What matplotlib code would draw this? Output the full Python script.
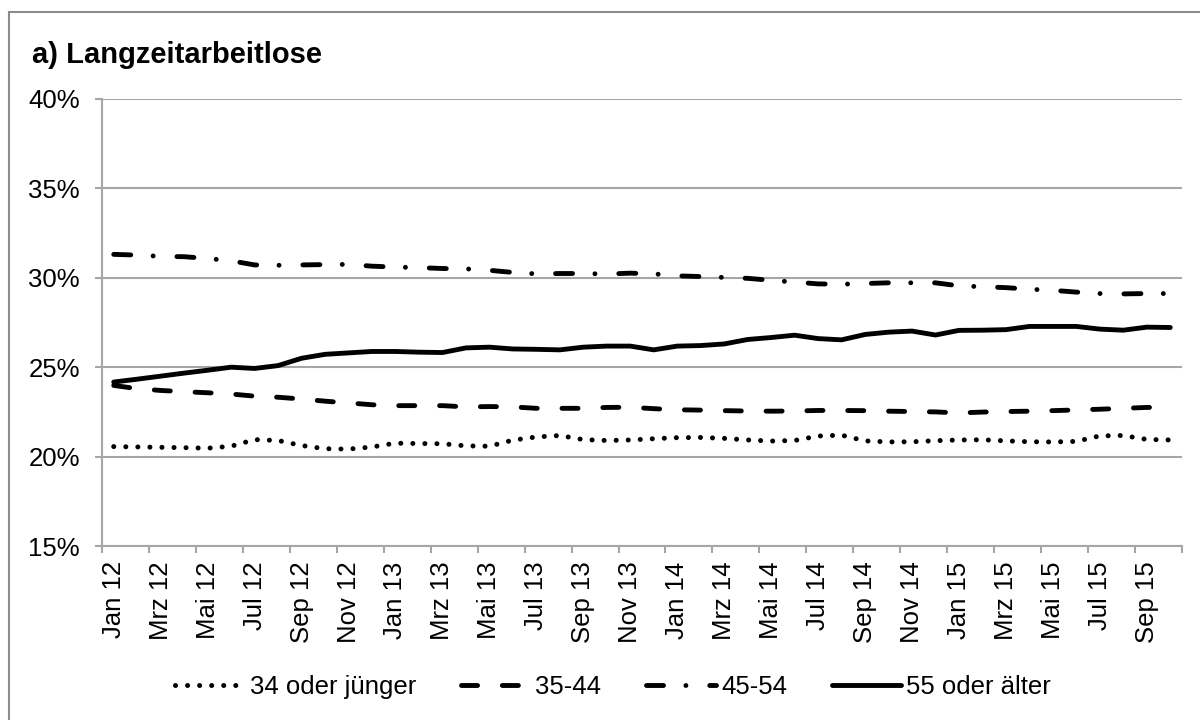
import matplotlib
matplotlib.use("Agg")
import matplotlib.pyplot as plt
from matplotlib.patches import Rectangle
import numpy as np

plt.rcParams['font.family'] = ['Liberation Sans', 'DejaVu Sans']

months = ["Jan", "Feb", "Mrz", "Apr", "Mai", "Jun", "Jul", "Aug", "Sep", "Okt", "Nov", "Dez"]
categories = [f"{months[m]} {y}" for y in (12, 13, 14, 15) for m in range(12)][:46]

s34 = [20.56, 20.54, 20.52, 20.50, 20.47, 20.58, 20.95, 20.90, 20.62, 20.44,
       20.42, 20.54, 20.75, 20.73, 20.72, 20.60, 20.58, 20.92, 21.10, 21.18,
       20.95, 20.90, 20.93, 21.00, 21.06, 21.07, 21.02, 20.93, 20.87, 20.90,
       21.15, 21.20, 20.88, 20.82, 20.83, 20.89, 20.93, 20.94, 20.88, 20.83,
       20.82, 20.85, 21.16, 21.18, 20.96, 20.93]
s35 = [23.98, 23.80, 23.70, 23.63, 23.57, 23.50, 23.38, 23.32, 23.22, 23.10,
       23.00, 22.90, 22.85, 22.85, 22.85, 22.78, 22.80, 22.78, 22.70, 22.70,
       22.70, 22.75, 22.76, 22.68, 22.62, 22.60, 22.57, 22.55, 22.54, 22.55,
       22.58, 22.58, 22.57, 22.54, 22.52, 22.50, 22.44, 22.49, 22.52, 22.54,
       22.57, 22.61, 22.65, 22.70, 22.75, 22.76]
s45 = [31.31, 31.27, 31.20, 31.18, 31.08, 30.95, 30.72, 30.70, 30.72, 30.74,
       30.75, 30.65, 30.60, 30.57, 30.52, 30.50, 30.42, 30.30, 30.22, 30.24,
       30.24, 30.21, 30.26, 30.22, 30.11, 30.07, 30.02, 29.97, 29.86, 29.76,
       29.66, 29.64, 29.68, 29.72, 29.72, 29.72, 29.55, 29.50, 29.45, 29.36,
       29.30, 29.20, 29.12, 29.10, 29.12, 29.12]
s55 = [24.17, 24.33, 24.50, 24.67, 24.83, 25.00, 24.93, 25.09, 25.50, 25.72,
       25.80, 25.88, 25.88, 25.84, 25.82, 26.08, 26.12, 26.02, 26.00, 25.97,
       26.12, 26.18, 26.18, 25.97, 26.18, 26.21, 26.30, 26.55, 26.66, 26.79,
       26.60, 26.53, 26.83, 26.96, 27.02, 26.80, 27.06, 27.07, 27.10, 27.28,
       27.28, 27.28, 27.13, 27.07, 27.24, 27.22]
series_names = ["34 oder jünger", "35-44", "45-54", "55 oder älter"]
yticks = [15, 20, 25, 30, 35, 40]
title = "a) Langzeitarbeitlose"

fig = plt.figure(figsize=(12, 7.2), dpi=100)
ax = fig.add_axes([0.085, 1 - 546 / 720, 0.9, (546 - 99) / 720])

x = np.arange(len(categories))
grid_c = "#A6A6A6"
fs = 18.5

ax.plot(x, s34, color="black", lw=3.6, linestyle=(0, (0.01, 2.4)),
        dash_capstyle="round", label=series_names[0])
ax.plot(x, s35, color="black", lw=3.5, linestyle=(0, (3.3, 5.1)),
        dash_capstyle="round", label=series_names[1])
ax.plot(x, s45, color="black", lw=3.5, linestyle=(0, (3.5, 4.6, 0.01, 4.9)),
        dash_capstyle="round", label=series_names[2])
ax.plot(x, s55, color="black", lw=3.5, solid_capstyle="round", label=series_names[3])

ax.set_xlim(-0.5, len(categories) - 0.5)
ax.set_ylim(15, 40)
ax.set_yticks(yticks)
ax.set_yticklabels([f"{v}%" for v in yticks], fontsize=fs)
ax.yaxis.grid(True, color=grid_c, lw=1.5)
ax.set_axisbelow(True)

ax.set_xticks(np.arange(-0.5, len(categories), 2))
ax.set_xticklabels([])
ax.set_xticks(x[::2], minor=True)
ax.set_xticklabels(categories[::2], minor=True, rotation=90, fontsize=fs)
ax.tick_params(axis="x", which="minor", length=0, pad=11)
ax.tick_params(axis="x", which="major", length=5, width=1.5, color=grid_c)
ax.tick_params(axis="y", length=5, width=1.5, color=grid_c, pad=11)

for s in ("top", "right"):
    ax.spines[s].set_visible(False)
for s in ("left", "bottom"):
    ax.spines[s].set_color(grid_c)
    ax.spines[s].set_linewidth(1.5)

fig.text(32 / 1200, 1 - 55 / 720, title, fontsize=21, fontweight="bold",
         va="center", ha="left")

leg = fig.legend(loc="center", bbox_to_anchor=(0.511, 1 - 687 / 720), ncol=4,
                 frameon=False, fontsize=fs, handlelength=2.7, handletextpad=0.2,
                 columnspacing=1.75)

fig.patches.append(Rectangle((9 / 1200, -0.1), 2, 1.1 - 12 / 720,
                             transform=fig.transFigure, fill=False,
                             edgecolor="#8C8C8C", lw=1.5))

fig.savefig("out.png", dpi=100)
